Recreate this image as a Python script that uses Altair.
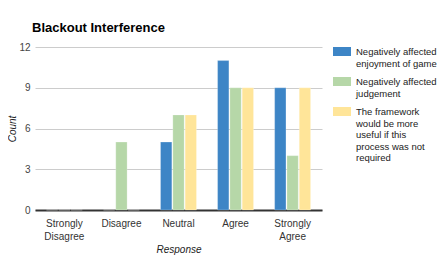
import altair as alt
import pandas as pd

categories = ["Strongly Disagree", "Disagree", "Neutral", "Agree", "Strongly Agree"]
series = [
    "Negatively affected enjoyment of game",
    "Negatively affected judgement",
    "The framework would be more useful if this process was not required",
]
enjoyment = [0, 0, 5, 11, 9]
judgement = [0, 5, 7, 9, 4]
framework = [0, 0, 7, 9, 9]
colors = ["#3d85c6", "#b6d7a8", "#ffe599"]
legend_lines = {
    series[0]: "Negatively affected|enjoyment of game",
    series[1]: "Negatively affected|judgement",
    series[2]: "The framework|would be more|useful if this|process was not|required",
}

rows = []
for vals, s in zip([enjoyment, judgement, framework], series):
    for c, v in zip(categories, vals):
        rows.append({"Response": c, "Series": s, "Count": v})
df = pd.DataFrame(rows)

font = "Liberation Sans"
legend_expr = "{" + ",".join(f"'{k}':'{v}'" for k, v in legend_lines.items()) + "}"

chart = alt.Chart(df).mark_bar(strokeWidth=0.6, stroke="white", strokeOpacity=0.4).encode(
    x=alt.X("Response:N", sort=categories, scale=alt.Scale(paddingInner=0.37, paddingOuter=0.2),
            axis=alt.Axis(title="Response", titleFontStyle="italic", titleFontWeight="normal",
                          titleFontSize=10, titleColor="#222", titlePadding=3,
                          labelAngle=0, labelFontSize=10, labelColor="#333", labelPadding=8,
                          labelExpr="split(datum.label, ' ')", labelLineHeight=13,
                          ticks=False, domainColor="#333", domainWidth=2)),
    xOffset=alt.XOffset("Series:N", sort=series, scale=alt.Scale(paddingInner=0.08)),
    y=alt.Y("Count:Q", scale=alt.Scale(domain=[0, 12]),
            axis=alt.Axis(title="Count", titleFontStyle="italic", titleFontWeight="normal",
                          titleFontSize=10, titleColor="#222", titlePadding=1,
                          values=[0, 3, 6, 9, 12], labelFontSize=10, labelColor="#444",
                          labelPadding=5, domain=False, ticks=False,
                          gridColor="#cccccc")),
    color=alt.Color("Series:N", sort=series, scale=alt.Scale(domain=series, range=colors),
                    legend=alt.Legend(title=None, orient="none", legendX=298, legendY=-9,
                                      symbolType="M-1,0H1V1H-1Z", symbolSize=324,
                                      symbolStrokeWidth=0,
                                      labelFontSize=9.5, labelColor="#222", labelLimit=200,
                                      labelExpr=f"split({legend_expr}[datum.label], '|')",
                                      labelBaseline="top", labelOffset=5,
                                      rowPadding=0)),
).properties(
    width=287, height=163,
    title=alt.Title("Blackout Interference", fontSize=13, fontWeight="bold", anchor="start",
                    frame="group", offset=3, dx=-3, color="#000"),
    autosize=alt.AutoSizeParams(type="none"),
    padding={"left": 27, "top": 39, "right": 117, "bottom": 46},
).configure(font=font).configure_view(stroke=None)

chart.save("out.html", embed_options={"renderer": "svg", "actions": False})
